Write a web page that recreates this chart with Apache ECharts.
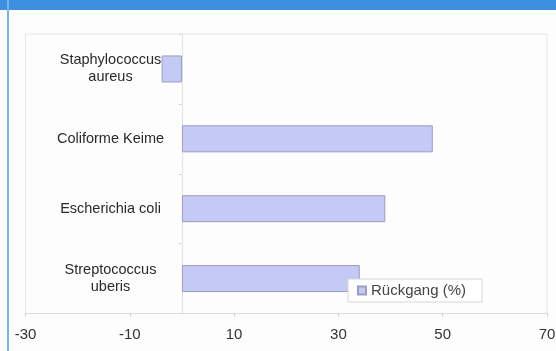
<!DOCTYPE html>
<html>
<head>
<meta charset="utf-8">
<script src="https://cdn.jsdelivr.net/npm/echarts@6/dist/echarts.min.js"></script>
<style>
html,body{margin:0;padding:0;background:#fdfdfd;}
#c{width:556px;height:351px;}
</style>
</head>
<body>
<div id="c"></div>
<script>
const categories = ['Staphylococcus\naureus', 'Coliforme Keime', 'Escherichia coli', 'Streptococcus\nuberis'];
const values = [-3.9, 48.1, 39.0, 34.1];
const seriesName = 'Rückgang (%)';
const xMin = -30, xMax = 70, xStep = 20;

const chart = echarts.init(document.getElementById('c'), null, {renderer: 'canvas'});
chart.setOption({
  backgroundColor: '#fdfdfd',
  animation: false,
  textStyle: {fontFamily: 'Liberation Sans, Arial, sans-serif'},
  graphic: [
    {type: 'rect', shape: {x: 0, y: 0, width: 556, height: 10}, style: {fill: '#3d8fe0'}, z: 10},
    {type: 'rect', shape: {x: 7, y: 0, width: 2, height: 351}, style: {fill: '#7ab3ee'}, z: 10}
  ],
  grid: {left: 25.5, top: 34, width: 521.5, height: 279.5, containLabel: false, outerBoundsMode: 'none',
         show: true, borderColor: '#e6e6e6', borderWidth: 1, backgroundColor: 'transparent'},
  legend: {
    data: [seriesName],
    left: 348, top: 279,
    padding: [4, 16, 4, 9],
    backgroundColor: '#ffffff', borderColor: '#d6d6d6', borderWidth: 1,
    icon: 'rect', itemWidth: 8, itemHeight: 8, itemGap: 5,
    textStyle: {fontSize: 15, color: '#444', fontFamily: 'Liberation Sans, Arial, sans-serif'},
    z: 20
  },
  xAxis: {
    type: 'value', min: xMin, max: xMax, interval: xStep,
    axisLine: {show: true, onZero: false, lineStyle: {color: '#dcdcdc'}},
    axisTick: {show: true, length: 3, lineStyle: {color: '#cfcfcf'}},
    splitLine: {show: false},
    axisLabel: {fontSize: 15, color: '#333', margin: 14}
  },
  yAxis: [{
    type: 'category', inverse: true, data: categories,
    axisLine: {show: true, onZero: true, lineStyle: {color: '#e2e2e2'}},
    axisTick: {show: true, length: 3, lineStyle: {color: '#d8d8d8'}},
    axisLabel: {show: false}
  }, {
    type: 'category', inverse: true, data: categories, position: 'left', offset: -85,
    axisLine: {show: false, onZero: false},
    axisTick: {show: false},
    splitLine: {show: false},
    axisLabel: {show: true, fontSize: 14.5, color: '#2a2a2a', align: 'center', margin: 0, lineHeight: 17, hideOverlap: false}
  }],
  series: [{
    name: seriesName, type: 'bar', data: values, barWidth: 27, yAxisIndex: 0,
    itemStyle: {color: '#c5c9f5', borderColor: '#9a9ec0', borderWidth: 1}
  }]
});
</script>
</body>
</html>
